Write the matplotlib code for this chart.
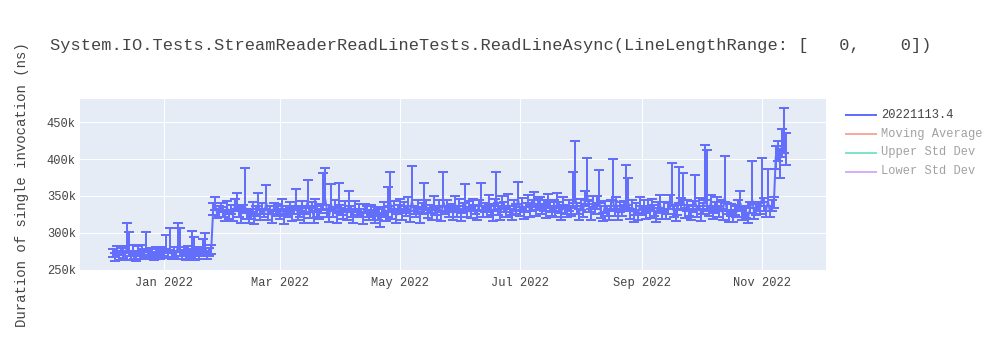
import numpy as np
import pandas as pd
import matplotlib
matplotlib.use("Agg")
import matplotlib.pyplot as plt
import matplotlib.dates as mdates
from matplotlib.lines import Line2D
from matplotlib.ticker import FuncFormatter, FixedLocator

title = "System.IO.Tests.StreamReaderReadLineTests.ReadLineAsync(LineLengthRange: [   0,    0])"
ylabel = "Duration of single invocation (ns)"
series_names = ["20221113.4", "Moving Average", "Upper Std Dev", "Lower Std Dev"]
series_colors = ["#636efa", "#EF553B", "#00cc96", "#ab63fa"]
series_visible = [True, False, False, False]
start_date = "2021-12-06"   # one value per day, one row per week (Mon..Sun)

values_k = [
    272, 268, 275, 270, 277, 271, 269,
    279, 273, 270, 276, 271, 268, 274,
    270, 277, 272, 280, 269, 274, 271,
    268, 273, 276, 270, 275, 271, 279,
    272, 278, 270, 274, 269, 281, 273,
    270, 275, 268, 277, 272, 279, 274,
    269, 276, 271, 273, 278, 280, 270,
    274, 277, 332, 338, 326, 330, 335,
    328, 322, 335, 326, 331, 324, 337,
    340, 329, 323, 333, 338, 327, 321,
    326, 334, 320, 330, 339, 325, 332,
    328, 341, 324, 331, 322, 336, 329,
    333, 325, 338, 321, 330, 327, 335,
    324, 332, 340, 326, 329, 336, 322,
    331, 342, 327, 334, 323, 337, 330,
    326, 333, 339, 345, 328, 324, 338,
    329, 336, 322, 340, 331, 327, 334,
    325, 338, 330, 323, 335, 328, 332,
    327, 321, 334, 329, 324, 331, 326,
    322, 330, 325, 318, 328, 333, 324,
    329, 342, 327, 335, 323, 331, 337,
    326, 334, 329, 338, 324, 343, 331,
    328, 336, 323, 332, 340, 339, 327,
    333, 325, 338, 330, 327, 335, 324,
    343, 331, 336, 328, 334, 326, 339,
    330, 337, 325, 333, 340, 329, 335,
    327, 338, 332, 326, 336, 342, 330,
    334, 328, 339, 331, 325, 337, 344,
    332, 327, 340, 335, 329, 338, 331,
    326, 336, 333, 345, 330, 339, 328,
    335, 341, 330, 337, 344, 332, 338,
    340, 333, 336, 329, 342, 335, 331,
    337, 330, 343, 334, 328, 339, 333,
    329, 336, 332, 340, 348, 334, 327,
    338, 330, 345, 352, 336, 328, 341,
    333, 340, 347, 329, 322, 335, 331,
    327, 336, 349, 331, 338, 326, 334,
    330, 337, 344, 341, 328, 335, 325,
    332, 326, 338, 330, 335, 328, 336,
    329, 337, 331, 325, 334, 340, 327,
    335, 328, 333, 339, 345, 330, 326,
    332, 347, 338, 344, 329, 336, 331,
    327, 335, 343, 330, 338, 326, 333,
    350, 337, 331, 341, 328, 334, 339,
    330, 336, 327, 348, 333, 325, 331,
    324, 332, 328, 335, 340, 326, 330,
    328, 322, 334, 345, 327, 331, 336,
    333, 348, 338, 330, 343, 329, 337,
    340, 404, 414, 396, 418, 428, 406,
]

err_hi_k = [
    6, 5, 7, 6, 5, 8, 6,
    35, 28, 6, 7, 5, 6, 8,
    5, 7, 6, 21, 6, 5, 7,
    6, 8, 5, 7, 6, 7, 18,
    5, 29, 6, 7, 5, 32, 33,
    7, 6, 8, 5, 6, 23, 21,
    6, 5, 7, 6, 14, 20, 6,
    5, 7, 8, 11, 6, 7, 5,
    7, 6, 8, 5, 7, 6, 9,
    14, 6, 7, 5, 50, 6, 7,
    6, 8, 5, 7, 15, 6, 8,
    5, 24, 7, 6, 8, 5, 7,
    6, 7, 8, 5, 6, 9, 7,
    7, 5, 19, 6, 8, 7, 5,
    6, 30, 7, 8, 5, 9, 6,
    7, 6, 42, 43, 5, 8, 28,
    6, 8, 5, 27, 7, 6, 9,
    5, 19, 7, 6, 8, 5, 7,
    6, 7, 5, 8, 6, 7, 5,
    7, 5, 8, 6, 7, 9, 6,
    33, 40, 6, 8, 5, 7, 9,
    6, 8, 7, 10, 5, 47, 6,
    7, 9, 5, 8, 27, 6, 7,
    5, 7, 12, 6, 8, 9, 5,
    39, 6, 8, 7, 5, 8, 11,
    6, 9, 5, 7, 26, 6, 8,
    7, 8, 6, 5, 9, 25, 7,
    6, 7, 12, 8, 5, 9, 39,
    8, 5, 10, 7, 6, 14, 5,
    7, 9, 6, 24, 5, 8, 7,
    6, 10, 5, 8, 12, 7, 9,
    9, 6, 8, 5, 10, 7, 6,
    7, 5, 11, 8, 6, 9, 5,
    6, 8, 5, 43, 77, 7, 6,
    8, 6, 12, 49, 7, 5, 9,
    6, 10, 38, 7, 5, 8, 6,
    5, 9, 51, 6, 10, 7, 8,
    7, 6, 48, 34, 5, 9, 6,
    8, 5, 10, 7, 9, 6, 8,
    6, 9, 7, 5, 8, 11, 6,
    7, 5, 8, 12, 50, 6, 7,
    6, 42, 9, 37, 5, 8, 7,
    5, 8, 35, 7, 9, 6, 8,
    69, 75, 6, 10, 5, 8, 9,
    6, 8, 5, 56, 7, 6, 8,
    7, 6, 8, 9, 17, 5, 7,
    6, 5, 8, 52, 7, 9, 6,
    8, 53, 9, 6, 43, 7, 8,
    8, 14, 11, 18, 23, 41, 29,
]

err_lo_k = [
    5, 6, 5, 7, 6, 5, 6,
    6, 5, 7, 5, 6, 6, 5,
    6, 7, 5, 6, 5, 7, 6,
    5, 6, 7, 5, 6, 5, 7,
    6, 5, 6, 7, 5, 6, 5,
    5, 7, 5, 6, 6, 7, 5,
    6, 5, 6, 5, 7, 6, 5,
    5, 6, 8, 7, 6, 8, 7,
    7, 6, 8, 7, 6, 8, 7,
    8, 7, 9, 6, 7, 8, 8,
    7, 6, 8, 7, 6, 8, 7,
    6, 8, 7, 6, 8, 7, 6,
    7, 6, 8, 9, 7, 6, 8,
    8, 7, 6, 8, 7, 6, 9,
    6, 8, 7, 6, 9, 7, 8,
    7, 6, 8, 7, 6, 9, 7,
    8, 7, 9, 6, 7, 8, 6,
    7, 6, 8, 9, 7, 6, 8,
    6, 9, 7, 8, 6, 7, 8,
    9, 7, 8, 10, 7, 6, 8,
    7, 6, 8, 7, 9, 6, 7,
    8, 7, 6, 8, 9, 7, 6,
    7, 8, 9, 6, 7, 8, 7,
    6, 8, 7, 6, 9, 7, 8,
    7, 6, 8, 7, 6, 8, 7,
    8, 7, 9, 6, 7, 8, 6,
    7, 8, 6, 9, 7, 6, 8,
    6, 7, 8, 7, 9, 6, 7,
    8, 9, 6, 7, 8, 6, 7,
    9, 7, 8, 6, 7, 8, 9,
    7, 6, 8, 7, 6, 9, 7,
    6, 8, 7, 9, 6, 7, 8,
    7, 9, 6, 7, 10, 6, 8,
    8, 7, 9, 6, 7, 8, 9,
    7, 9, 6, 7, 8, 10, 6,
    8, 7, 6, 9, 6, 7, 8,
    9, 7, 6, 8, 7, 9, 6,
    7, 8, 6, 7, 9, 6, 10,
    8, 9, 7, 6, 8, 9, 7,
    9, 7, 8, 10, 7, 6, 8,
    7, 9, 8, 6, 7, 8, 10,
    8, 6, 7, 6, 9, 7, 8,
    9, 7, 6, 8, 7, 10, 8,
    6, 7, 8, 6, 9, 7, 6,
    8, 7, 9, 6, 7, 10, 8,
    9, 8, 7, 6, 7, 9, 8,
    8, 9, 7, 6, 8, 7, 6,
    7, 6, 8, 9, 6, 8, 7,
    6, 18, 16, 21, 15, 20, 14,
]

y_ticks_k = [250, 300, 350, 400, 450]
x_tick_months = [1, 3, 5, 7, 9, 11]

# ---------------------------------------------------------------
dates = pd.date_range(start_date, periods=len(values_k), freq="D")
y = np.array(values_k, dtype=float) * 1000
hi = np.array(err_hi_k, dtype=float) * 1000
lo = np.array(err_lo_k, dtype=float) * 1000

FONT = "Liberation Mono"
TXT = "#444444"
W, H = 1000, 350
PX = 0.72  # points per pixel at dpi 100

fig = plt.figure(figsize=(W / 100, H / 100), dpi=100)
fig.patch.set_facecolor("white")
ax_l, ax_r, ax_t, ax_b = 80, 826, 99, 270
ax = fig.add_axes([ax_l / W, 1 - ax_b / H, (ax_r - ax_l) / W, (ax_b - ax_t) / H])
ax.set_facecolor("#E5ECF6")

ax.errorbar(dates, y, yerr=[lo, hi], fmt="-", color=series_colors[0],
            lw=2 * PX, elinewidth=2 * PX, capsize=3.8, capthick=2 * PX, zorder=3)

x0 = pd.Timestamp("2022-01-01")
ax.set_xlim(mdates.date2num(x0 - pd.Timedelta(days=42.7)),
            mdates.date2num(x0 + pd.Timedelta(days=336.5)))
ax.set_ylim(249600, 481500)

ax.xaxis.set_major_locator(mdates.MonthLocator(bymonth=x_tick_months))
ax.xaxis.set_major_formatter(mdates.DateFormatter("%b %Y"))
ax.yaxis.set_major_locator(FixedLocator([v * 1000 for v in y_ticks_k]))
ax.yaxis.set_major_formatter(FuncFormatter(lambda v, p: f"{int(round(v / 1000))}k"))

ax.grid(True, color="white", lw=1.0 * PX)
ax.set_axisbelow(True)
for s in ax.spines.values():
    s.set_visible(False)
ax.tick_params(axis="both", length=0, labelsize=12 * PX, labelcolor=TXT)
ax.tick_params(axis="y", pad=3)
ax.tick_params(axis="x", pad=5)
for lab in ax.get_xticklabels() + ax.get_yticklabels():
    lab.set_fontfamily(FONT)

fig.text(50 / W, 1 - 45.5 / H, title, ha="left", va="center",
         fontsize=17 * PX, color=TXT, family=FONT)
fig.text(22 / W, 1 - ((ax_t + ax_b) / 2) / H, ylabel, ha="center", va="center",
         rotation=90, fontsize=14 * PX, color=TXT, family=FONT)

# legend
for i, (name, col, vis) in enumerate(zip(series_names, series_colors, series_visible)):
    yy = 1 - (114.5 + 19 * i) / H
    a = 1.0 if vis else 0.5
    fig.add_artist(Line2D([846 / W, 876 / W], [yy, yy], transform=fig.transFigure,
                          color=col, lw=2 * PX, alpha=a))
    fig.text(881 / W, yy, name, ha="left", va="center", fontsize=12 * PX,
             color=TXT, alpha=a, family=FONT)

fig.savefig("out.png", dpi=100)
